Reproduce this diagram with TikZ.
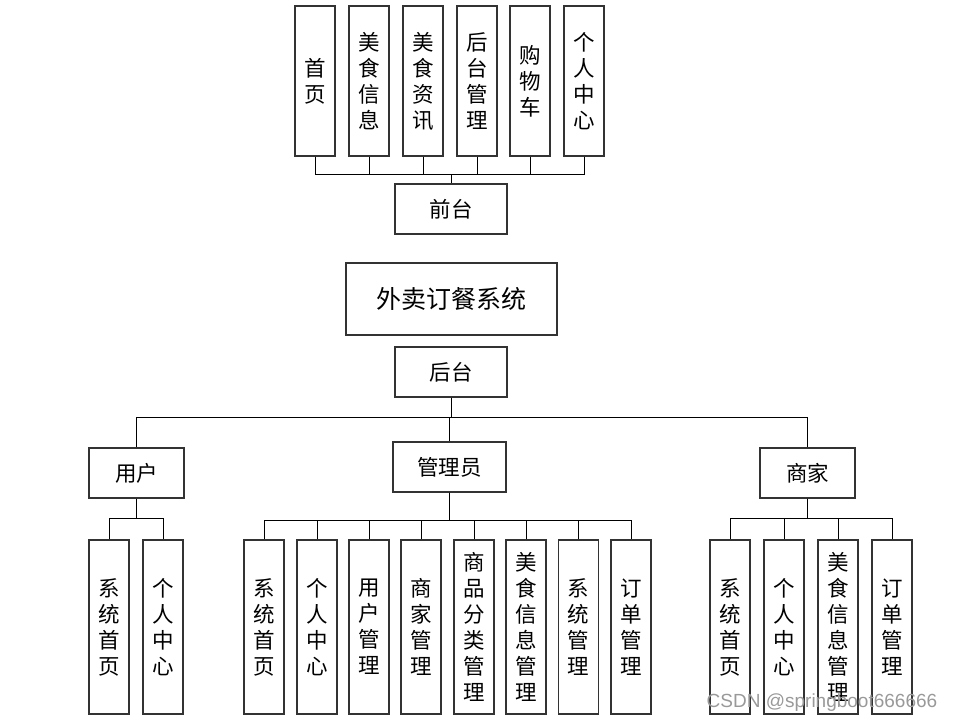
\documentclass[tikz,border=0pt]{standalone}
\usepackage{fontspec}
\newfontfamily\cjk{Noto Sans CJK SC}
\setsansfont{Liberation Sans}
\begin{document}
\begin{tikzpicture}[x=1pt,y=-1pt,
  vbox/.style={draw=black!80,line width=1.1pt,minimum width=40pt,inner sep=0pt,align=center,font=\cjk\fontsize{21.5}{26}\selectfont},
  topbox/.style={vbox,minimum height=150pt},
  botbox/.style={vbox,minimum height=174pt},
  hbox/.style={draw=black!80,line width=1.1pt,inner sep=0pt,font=\cjk\fontsize{21.5}{26}\selectfont},
  conn/.style={draw=black,line width=0.9pt}]
\useasboundingbox (0,0) rectangle (955,723);
% top
\node[topbox] (t1) at (315,81) {首\\页};
\node[topbox] (t2) at (369,81) {美\\食\\信\\息};
\node[topbox] (t3) at (423,81) {美\\食\\资\\讯};
\node[topbox] (t4) at (477,81) {后\\台\\管\\理};
\node[topbox] (t5) at (530,81) {购\\物\\车};
\node[topbox] (t6) at (584,81) {个\\人\\中\\心};
\node[hbox,minimum width=112pt,minimum height=50pt] (qt) at (451,209) {前台};
\foreach \c in {t1,t2,t3,t4,t5,t6} \draw[conn] (\c.south) -- ++(0,18) -| (qt.north);
% system
\node[hbox,minimum width=211pt,minimum height=72pt,font=\cjk\fontsize{25}{30}\selectfont] (sys) at (451.5,299) {外卖订餐系统};
% backend
\node[hbox,minimum width=112pt,minimum height=50pt] (ht) at (451,372) {后台};
\node[hbox,minimum width=95pt,minimum height=50pt] (yh) at (136.5,473) {用户};
\node[hbox,minimum width=113pt,minimum height=50pt] (gly) at (449.5,467) {管理员};
\node[hbox,minimum width=95pt,minimum height=50pt] (sj) at (807.5,473) {商家};
\draw[conn] (ht.south) -- ++(0,20) -| (yh.north);
\draw[conn] (ht.south) -- ++(0,20) -| (gly.north);
\draw[conn] (ht.south) -- ++(0,20) -| (sj.north);
% user children
\node[botbox] (u1) at (109,627) {系\\统\\首\\页};
\node[botbox] (u2) at (163,627) {个\\人\\中\\心};
\foreach \c in {u1,u2} \draw[conn] (yh.south) -- ++(0,20) -| (\c.north);
% admin children
\node[botbox] (a1) at (264,627) {系\\统\\首\\页};
\node[botbox] (a2) at (317,627) {个\\人\\中\\心};
\node[botbox] (a3) at (369,627) {用\\户\\管\\理};
\node[botbox] (a4) at (421,627) {商\\家\\管\\理};
\node[botbox] (a5) at (474,627) {商\\品\\分\\类\\管\\理};
\node[botbox] (a6) at (526,627) {美\\食\\信\\息\\管\\理};
\node[botbox] (a7) at (578.5,627) {系\\统\\管\\理};
\node[botbox] (a8) at (631,627) {订\\单\\管\\理};
\foreach \c in {a1,a2,a3,a4,a5,a6,a7,a8} \draw[conn] (gly.south) -- ++(0,28) -| (\c.north);
% merchant children
\node[botbox] (m1) at (730,627) {系\\统\\首\\页};
\node[botbox] (m2) at (784,627) {个\\人\\中\\心};
\node[botbox] (m3) at (838,627) {美\\食\\信\\息\\管\\理};
\node[botbox] (m4) at (892,627) {订\\单\\管\\理};
\foreach \c in {m1,m2,m3,m4} \draw[conn] (sj.south) -- ++(0,20) -| (\c.north);
% watermark
\node[text=black!40,font=\sffamily\fontsize{19}{21}\selectfont,inner sep=0pt] (wm) at (822,703) {CSDN @springboot666666};
\end{tikzpicture}
\end{document}
